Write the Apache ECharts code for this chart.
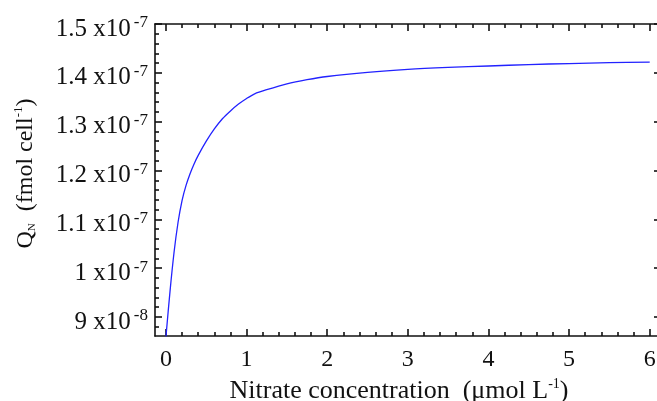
<!DOCTYPE html>
<html>
<head>
<meta charset="utf-8">
<script src="https://cdn.jsdelivr.net/npm/echarts@6/dist/echarts.min.js"></script>
<style>
html,body{margin:0;padding:0;background:#fff;overflow:hidden;}
#chart{width:680px;height:401px;}
</style>
</head>
<body>
<div id="chart"></div>
<script>
// Nitrate concentration (µmol L^-1)
const nitrate = [0, 0.05, 0.1, 0.15, 0.2, 0.25, 0.3, 0.35, 0.4, 0.5, 0.6, 0.7, 0.8, 0.9, 1.0, 1.1, 1.25, 1.5, 1.75, 2.0, 2.5, 3.0, 3.5, 4.0, 4.5, 5.0, 5.5, 6.0];
// Q_N in units of 1e-7 fmol cell^-1
const qN = [0.86, 0.952, 1.032, 1.094, 1.139, 1.17, 1.194, 1.214, 1.231, 1.26, 1.285, 1.306, 1.322, 1.336, 1.3475, 1.357, 1.3655, 1.3775, 1.386, 1.3925, 1.401, 1.407, 1.411, 1.414, 1.417, 1.419, 1.421, 1.422];

const xMajor = [0, 1, 2, 3, 4, 5, 6];
const xMinor = [0.2, 0.4, 0.6, 0.8, 1.2, 1.4, 1.6, 1.8, 2.2, 2.4, 2.6, 2.8, 3.2, 3.4, 3.6, 3.8, 4.2, 4.4, 4.6, 4.8, 5.2, 5.4, 5.6, 5.8];
const xTickLabels = ['0', '1', '2', '3', '4', '5', '6'];

const yMajor = [0.9, 1.0, 1.1, 1.2, 1.3, 1.4, 1.5];
const yMinor = [0.88, 0.92, 0.94, 0.96, 0.98, 1.02, 1.04, 1.06, 1.08, 1.12, 1.14, 1.16, 1.18, 1.22, 1.24, 1.26, 1.28, 1.32, 1.34, 1.36, 1.38, 1.42, 1.44, 1.46, 1.48];
const yTickMantissa = ['9', '1', '1.1', '1.2', '1.3', '1.4', '1.5'];
const yTickExponent = ['-8', '-7', '-7', '-7', '-7', '-7', '-7'];

const X_MIN = -0.136, X_MAX = 6.14;
const Y_MIN = 0.8611, Y_MAX = 1.5;

const FONT = "'Liberation Serif','Times New Roman',serif";
const AX = {color: '#111', width: 1.6};

function idxOf(arr, v) {
  for (let i = 0; i < arr.length; i++) if (Math.abs(arr[i] - v) < 1e-6) return i;
  return -1;
}

function xAxisDef(pos, major) {
  return {
    type: 'value', position: pos, min: X_MIN, max: X_MAX,
    axisLine: {show: major, onZero: false, lineStyle: AX},
    axisTick: {show: true, inside: true, length: major ? 7 : 4, customValues: major ? xMajor : xMinor, lineStyle: AX},
    axisLabel: (major && pos === 'bottom') ? {
      show: true, customValues: xMajor, margin: 12,
      fontFamily: FONT, fontSize: 24, color: '#111',
      formatter: function (v) { const i = idxOf(xMajor, v); return i >= 0 ? xTickLabels[i] : ''; }
    } : {show: false},
    splitLine: {show: false}
  };
}
function yAxisDef(pos, major) {
  return {
    type: 'value', position: pos, min: Y_MIN, max: Y_MAX,
    axisLine: {show: major, onZero: false, lineStyle: AX},
    axisTick: {show: true, inside: true, length: major ? 7 : 4, customValues: major ? yMajor : yMinor, lineStyle: AX},
    axisLabel: (major && pos === 'left') ? {
      show: true, customValues: yMajor, margin: 7,
      padding: [8, 0, 0, 0],
      fontFamily: FONT, fontSize: 25, color: '#111',
      formatter: function (v) {
        const i = idxOf(yMajor, v);
        return i >= 0 ? '{b|' + yTickMantissa[i] + ' x10}{s|' + yTickExponent[i] + '}' : '';
      },
      rich: {
        b: {fontFamily: FONT, fontSize: 25, color: '#111', lineHeight: 27, verticalAlign: 'bottom'},
        s: {fontFamily: FONT, fontSize: 17, color: '#111', lineHeight: 16, verticalAlign: 'top', padding: [0, 0, 0, 3]}
      }
    } : {show: false},
    splitLine: {show: false}
  };
}

const xAxes = [xAxisDef('bottom', true), xAxisDef('bottom', false), xAxisDef('top', true), xAxisDef('top', false)];
xAxes[0].name = '{t|Nitrate concentration  (μmol L}{s|-1}{t|)}';
xAxes[0].nameLocation = 'middle';
xAxes[0].nameGap = 29;
xAxes[0].nameTextStyle = {
  padding: [0, 18, 0, 0],
  rich: {
    t: {fontFamily: FONT, fontSize: 26, color: '#111', lineHeight: 27, verticalAlign: 'bottom'},
    s: {fontFamily: FONT, fontSize: 14, color: '#111', lineHeight: 14, verticalAlign: 'top'}
  }
};

const yAxes = [yAxisDef('left', true), yAxisDef('left', false), yAxisDef('right', true), yAxisDef('right', false)];
yAxes[0].name = '{q|Q}{n|N}{t|  (fmol cell}{s|-1}{t|)}';
yAxes[0].nameLocation = 'middle';
yAxes[0].nameGap = 117;
yAxes[0].nameTextStyle = {
  padding: [0, 0, 0, 13],
  rich: {
    q: {fontFamily: FONT, fontSize: 24, color: '#111', lineHeight: 26, verticalAlign: 'bottom'},
    n: {fontFamily: FONT, fontSize: 11, color: '#111', lineHeight: 12, verticalAlign: 'bottom'},
    t: {fontFamily: FONT, fontSize: 24, color: '#111', lineHeight: 26, verticalAlign: 'bottom'},
    s: {fontFamily: FONT, fontSize: 13, color: '#111', lineHeight: 14, verticalAlign: 'top'}
  }
};

const chart = echarts.init(document.getElementById('chart'), null, {renderer: 'canvas'});
chart.setOption({
  animation: false,
  backgroundColor: '#fff',
  grid: {left: 155, top: 24, width: 506, height: 312, containLabel: false, outerBoundsMode: 'none'},
  xAxis: xAxes,
  yAxis: yAxes,
  series: [{
    type: 'line',
    xAxisIndex: 0, yAxisIndex: 0,
    data: nitrate.map((x, i) => [x, qN[i]]),
    showSymbol: false,
    smooth: 0.3,
    lineStyle: {color: '#2222ff', width: 1.3},
    clip: true
  }]
});
</script>
</body>
</html>
